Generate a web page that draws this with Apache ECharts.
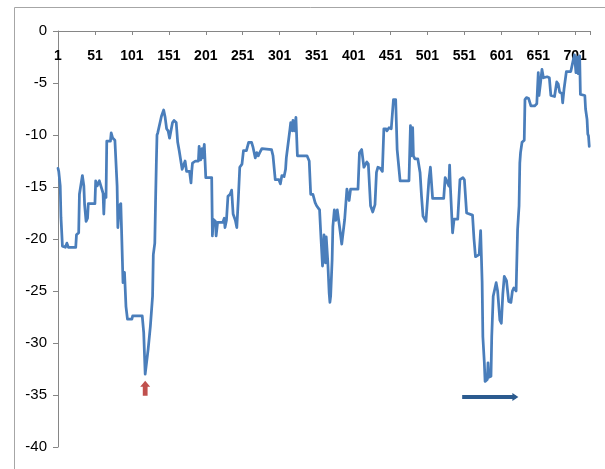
<!DOCTYPE html>
<html>
<head>
<meta charset="utf-8">
<script src="https://cdn.jsdelivr.net/npm/echarts@6/dist/echarts.min.js"></script>
<style>
  html, body { margin: 0; padding: 0; background: #ffffff; }
  #chart { width: 605px; height: 469px; }
</style>
</head>
<body>
<div id="chart"></div>
<script>
// Observation number (0-based) at each vertex of the drawdown path
const obsIndex = [
  0, 1, 3, 4, 6, 10, 12, 14, 24, 25, 28, 29, 31, 33, 35, 36, 38, 40, 41, 50,
  51, 53, 56, 58, 61, 62, 63, 65, 66, 71, 72, 74, 76, 77, 80, 81, 83, 85, 86, 88,
  90, 92, 94, 100, 101, 114, 116, 118, 122, 125, 128, 129, 131, 132, 133, 134, 135, 137, 140, 143,
  145, 147, 149, 151, 152, 155, 157, 160, 162, 164, 168, 170, 172, 174, 178, 180, 181, 182, 186, 188,
  190, 191, 193, 195, 196, 198, 200, 208, 209, 210, 213, 214, 216, 223, 225, 226, 228, 230, 233, 235,
  237, 240, 242, 244, 246, 249, 251, 255, 258, 262, 264, 267, 269, 271, 273, 276, 289, 291, 294, 299,
  301, 303, 306, 308, 309, 311, 314, 315, 317, 318, 320, 322, 324, 337, 340, 342, 345, 348, 350, 352,
  354, 356, 358, 360, 362, 363, 365, 367, 368, 369, 371, 372, 374, 376, 378, 380, 381, 384, 386, 388,
  391, 393, 394, 396, 406, 408, 411, 414, 416, 418, 420, 423, 426, 429, 431, 433, 436, 439, 441, 444,
  445, 448, 451, 453, 454, 457, 459, 461, 463, 475, 477, 478, 480, 481, 483, 487, 490, 492, 494, 498,
  500, 502, 504, 507, 522, 524, 526, 529, 530, 531, 534, 536, 541, 544, 548, 550, 553, 561, 563, 565,
  570, 572, 574, 575, 577, 578, 581, 582, 583, 586, 587, 589, 591, 593, 595, 598, 600, 602, 604, 607,
  610, 613, 615, 617, 620, 621, 622, 624, 625, 626, 628, 631, 632, 634, 637, 640, 645, 648, 650, 651,
  653, 655, 657, 662, 665, 667, 672, 675, 677, 679, 682, 683, 685, 688, 694, 697, 699, 701, 703, 704,
  706, 707, 713, 714, 716, 717, 718, 719
];

// Drawdown value (%) at each vertex
const drawdown = [
  -13.2, -13.5, -14.9, -17.9, -20.7, -20.8, -20.4, -20.8, -20.8, -19.6, -19.4, -15.7, -15.6, -13.9, -14.9, -16.7, -18.3, -18.0, -16.6, -16.6,
  -14.4, -14.9, -14.4, -14.9, -15.6, -17.6, -15.7, -16.0, -10.6, -10.6, -9.8, -10.3, -10.3, -10.5, -14.9, -18.9, -16.8, -16.6, -19.1, -24.2,
  -23.2, -26.5, -27.7, -27.7, -27.4, -27.4, -29.0, -33.0, -30.6, -28.4, -25.5, -21.5, -20.4, -16.5, -13.0, -10.0, -9.8, -9.7, -8.2, -7.6,
  -8.3, -9.4, -9.6, -10.3, -10.3, -8.8, -8.6, -8.8, -10.7, -11.5, -13.3, -13.3, -12.5, -13.5, -13.5, -14.6, -13.5, -12.7, -12.5, -12.4,
  -12.5, -11.1, -12.4, -11.3, -12.2, -10.9, -14.1, -14.1, -19.7, -18.1, -18.3, -19.7, -18.4, -18.4, -18.0, -18.9, -18.2, -15.9, -15.7, -15.3,
  -17.6, -18.2, -18.9, -16.2, -13.1, -12.8, -11.5, -11.5, -10.7, -10.7, -11.2, -12.2, -11.7, -12.0, -11.7, -11.3, -11.4, -12.0, -14.3, -14.3,
  -14.7, -13.9, -14.0, -13.3, -12.2, -12.2, -9.4, -8.8, -9.6, -8.6, -9.6, -8.3, -12.0, -12.0, -12.5, -15.7, -15.7, -16.5, -16.8, -16.9,
  -17.2, -20.0, -22.6, -19.6, -22.3, -19.8, -22.0, -25.2, -26.1, -25.5, -22.0, -18.8, -17.2, -18.2, -17.2, -17.1, -18.8, -20.5, -20.5, -18.1,
  -15.2, -15.2, -16.3, -15.2, -15.2, -11.7, -11.4, -13.1, -13.0, -12.6, -12.8, -16.8, -17.4, -16.7, -13.6, -13.1, -13.2, -13.5, -9.4, -9.4,
  -9.6, -9.3, -9.4, -9.4, -6.6, -6.6, -11.4, -11.4, -14.4, -14.4, -9.1, -12.0, -9.3, -12.0, -12.3, -12.3, -13.6, -15.9, -17.8, -18.3,
  -18.2, -14.3, -13.1, -16.1, -16.1, -14.1, -14.0, -14.9, -12.9, -14.9, -19.4, -18.1, -18.1, -14.3, -14.1, -14.3, -17.5, -17.7, -20.0, -21.7,
  -21.5, -19.2, -24.1, -29.4, -31.9, -33.7, -33.5, -31.9, -33.3, -33.2, -29.4, -25.5, -25.4, -24.2, -25.0, -27.8, -28.1, -25.3, -23.6, -24.0,
  -26.0, -26.1, -25.0, -24.7, -25.0, -24.9, -19.1, -16.8, -12.7, -11.7, -10.7, -10.5, -6.6, -6.4, -6.5, -7.2, -7.2, -7.0, -4.0, -6.2,
  -5.0, -3.7, -4.5, -4.4, -4.5, -6.2, -6.3, -4.9, -5.1, -5.9, -6.0, -6.9, -5.5, -3.9, -3.9, -2.9, -2.3, -4.0, -2.5, -4.1,
  -2.4, -6.1, -6.2, -7.5, -8.5, -9.9, -10.1, -11.1
];

// Axis ranges and tick spacing
const xRange = [0, 720];
const xStep = 50;
const yRange = [-40, 0];
const yStep = 5;

// Annotation anchors (data coordinates)
const troughMarker = [118, -34.35];
const recoverySpan = [[547, -35.2], [619, -35.2]];

const points = obsIndex.map((x, i) => [x, drawdown[i]]);

const chart = echarts.init(document.getElementById('chart'), null, { renderer: 'canvas' });

chart.setOption({
  animation: false,
  backgroundColor: '#ffffff',
  graphic: [{
    type: 'rect',
    silent: true,
    shape: { x: 14.5, y: 7.5, width: 700, height: 600 },
    style: { fill: 'none', stroke: '#a6a6a6', lineWidth: 1 }
  }],
  grid: { left: 58, right: 15, top: 31, bottom: 22, containLabel: false },
  xAxis: {
    type: 'value',
    position: 'top',
    min: xRange[0],
    max: xRange[1],
    interval: xStep,
    axisLine: { show: true, onZero: false, lineStyle: { color: '#868686', width: 1 } },
    axisTick: { show: true, inside: true, length: 4, lineStyle: { color: '#868686' } },
    axisLabel: {
      inside: true,
      margin: 18,
      color: '#000000',
      fontFamily: 'Liberation Sans, Arial, sans-serif',
      fontWeight: 'bold',
      fontSize: 14,
      formatter: v => (v % xStep === 0 ? String(v + 1) : '')
    },
    splitLine: { show: false }
  },
  yAxis: {
    type: 'value',
    min: yRange[0],
    max: yRange[1],
    interval: yStep,
    axisLine: { show: true, lineStyle: { color: '#868686', width: 1 } },
    axisTick: { show: true, length: 5, lineStyle: { color: '#868686' } },
    axisLabel: {
      margin: 11,
      color: '#000000',
      fontFamily: 'Liberation Sans, Arial, sans-serif',
      fontSize: 15
    },
    splitLine: { show: false }
  },
  series: [{
    type: 'line',
    data: points,
    showSymbol: false,
    symbol: 'none',
    lineStyle: { color: '#4a7ebb', width: 2.75, join: 'round', cap: 'round' },
    emphasis: { disabled: true },
    markPoint: {
      silent: true,
      symbol: 'path://M5,0 L10,6 L7.4,6 L7.4,15 L2.6,15 L2.6,6 L0,6 Z',
      symbolSize: [10, 15],
      itemStyle: { color: '#c0504d' },
      label: { show: false },
      data: [{ coord: troughMarker }]
    },
    markLine: {
      silent: true,
      symbol: ['none', 'triangle'],
      symbolSize: [8, 6],
      lineStyle: { color: '#2b5b8f', width: 4, type: 'solid' },
      label: { show: false },
      emphasis: { disabled: true },
      data: [[{ coord: recoverySpan[0] }, { coord: recoverySpan[1] }]]
    }
  }]
});
</script>
</body>
</html>
